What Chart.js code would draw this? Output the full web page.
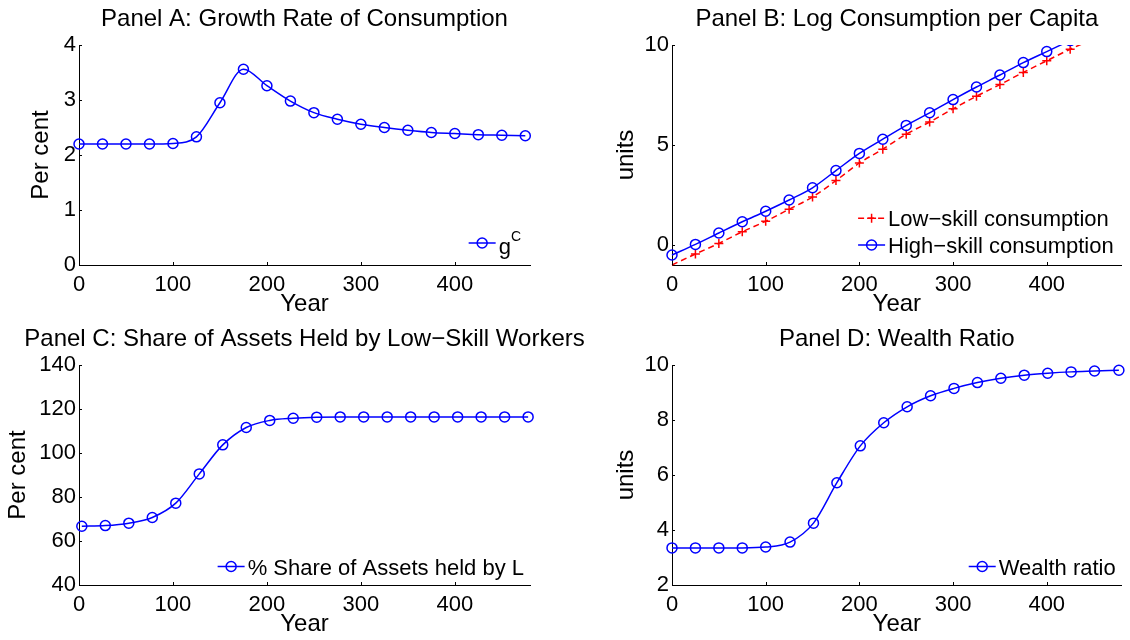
<!DOCTYPE html>
<html><head><meta charset="utf-8">
<script src="https://cdn.jsdelivr.net/npm/chart.js@4.4.1/dist/chart.umd.min.js"></script>
<style>
html,body{margin:0;padding:0;background:#fff;}
#wrap{position:relative;width:1130px;height:640px;overflow:hidden;background:#fff;}
canvas{position:absolute;}
</style></head><body>
<div id="wrap">
<canvas id="cA" width="565" height="320" style="left:0;top:0"></canvas>
<canvas id="cB" width="565" height="320" style="left:565px;top:0"></canvas>
<canvas id="cC" width="620" height="320" style="left:0;top:320px"></canvas>
<canvas id="cD" width="565" height="320" style="left:565px;top:320px"></canvas>
</div>
<script>
// ---------- data ----------
const yearsA = [0,25,50,75,100,125,150,175,200,225,250,275,300,325,350,375,400,425,450,475];
const growthC = [2.2,2.2,2.2,2.2,2.21,2.33,2.95,3.56,3.26,2.98,2.77,2.65,2.56,2.50,2.45,2.41,2.39,2.37,2.36,2.35];

const yearsHigh = [0,25,50,75,100,125,150,175,200,225,250,275,300,325,350,375,400,425];
const highSkill = [-0.5,0.03,0.6,1.16,1.69,2.25,2.86,3.72,4.58,5.29,5.98,6.61,7.27,7.9,8.5,9.12,9.67,10.22];
const yearsLow = [0,25,50,75,100,125,150,175,200,225,250,275,300,325,350,375,400,425,450];
const lowSkill = [-1.0,-0.45,0.08,0.66,1.19,1.79,2.4,3.22,4.1,4.79,5.54,6.15,6.81,7.44,8.02,8.63,9.21,9.79,10.3];

const yearsC = [3,28,53,78,103,128,153,178,203,228,253,278,303,328,353,378,403,428,453,478];
const shareL = [66.7,67.0,68.1,70.7,77.2,90.5,103.7,111.6,114.8,115.8,116.3,116.4,116.4,116.4,116.4,116.4,116.4,116.4,116.4,116.4];

const yearsD = [0,25,50,75,100,126,151,176,201,226,251,276,301,326,351,376,401,426,451,477];
const wealthRatio = [3.35,3.35,3.35,3.35,3.38,3.56,4.25,5.72,7.06,7.9,8.48,8.88,9.15,9.36,9.52,9.63,9.70,9.75,9.78,9.81];

const xTicks = [0,100,200,300,400];
const yTicksA = [0,1,2,3,4];
const yTicksB = [0,5,10];
const yTicksC = [40,60,80,100,120,140];
const yTicksD = [2,4,6,8,10];

const titleA = 'Panel A: Growth Rate of Consumption';
const titleB = 'Panel B: Log Consumption per Capita';
const titleC = 'Panel C: Share of Assets Held by Low\u2212Skill Workers';
const titleD = 'Panel D: Wealth Ratio';
const labelLow = 'Low\u2212skill consumption';
const labelHigh = 'High\u2212skill consumption';
const labelShare = '% Share of Assets held by L';
const labelWealth = 'Wealth ratio';

// ---------- styling helpers ----------
const FAM = '"Liberation Sans", Arial, Helvetica, sans-serif';
const BLUE = '#0000ff', RED = '#ff0000';
Chart.defaults.font.family = FAM;
Chart.defaults.color = '#000';

function pts(xs, ys){ return xs.map((x,i)=>({x:x, y:ys[i]})); }

function blueSeries(xs, ys, extra){
  return Object.assign({
    data: pts(xs, ys), borderColor: BLUE, borderWidth: 1.5,
    pointStyle: 'circle', pointRadius: 5, pointBorderWidth: 1.5,
    pointBorderColor: BLUE, pointBackgroundColor: 'rgba(0,0,0,0)',
    cubicInterpolationMode: 'monotone', fill: false, clip: false,
    _marker: 'circle'
  }, extra || {});
}

const decor = {
  id: 'decor',
  afterDraw(chart, args, o) {
    const ctx = chart.ctx, a = chart.chartArea;
    const xs = chart.scales.x, ys = chart.scales.y;
    ctx.save();
    // inward tick marks
    ctx.strokeStyle = '#000'; ctx.lineWidth = 1; ctx.setLineDash([]);
    ctx.beginPath();
    xs.ticks.forEach(t => { const p = Math.round(xs.getPixelForValue(t.value)) + 0.5; ctx.moveTo(p, a.bottom); ctx.lineTo(p, a.bottom - 3); });
    ys.ticks.forEach(t => { const p = Math.round(ys.getPixelForValue(t.value)) + 0.5; ctx.moveTo(a.left, p); ctx.lineTo(a.left + 3, p); });
    ctx.stroke();
    // title
    ctx.fillStyle = '#000';
    ctx.font = '24px ' + FAM;
    ctx.textAlign = 'center'; ctx.textBaseline = 'alphabetic';
    ctx.fillText(o.title, (a.left + a.right) / 2 + (o.titleDx || 0), o.titleY);
    // legend
    const items = o.legend;
    ctx.textAlign = 'left';
    const widths = items.map(it => {
      ctx.font = '22px ' + FAM;
      let w = ctx.measureText(it.label).width;
      if (it.sup) { ctx.font = '14px ' + FAM; w += ctx.measureText(it.sup).width; }
      return w;
    });
    const maxW = Math.max.apply(null, widths);
    const lineLen = 27, gap = 3;
    const x0 = a.right - o.inset - maxW - lineLen - gap;
    const n = items.length;
    items.forEach((it, i) => {
      const ds = chart.data.datasets[it.ds];
      const y = a.bottom - o.legendBottom - (n - 1 - i) * 26.7;
      ctx.strokeStyle = ds.borderColor; ctx.lineWidth = ds.borderWidth;
      ctx.setLineDash(ds.borderDash || []);
      ctx.beginPath(); ctx.moveTo(x0, y); ctx.lineTo(x0 + lineLen, y); ctx.stroke();
      ctx.setLineDash([]);
      const mx = x0 + lineLen / 2;
      ctx.lineWidth = 1.5;
      ctx.beginPath();
      if (ds._marker === 'circle') { ctx.arc(mx, y, 5, 0, Math.PI * 2); }
      else { ctx.moveTo(mx - 4.5, y); ctx.lineTo(mx + 4.5, y); ctx.moveTo(mx, y - 4.5); ctx.lineTo(mx, y + 4.5); }
      ctx.stroke();
      ctx.fillStyle = '#000';
      if (it.sup) {
        ctx.font = '22px ' + FAM;
        ctx.fillText(it.label, x0 + lineLen + gap, y + 11);
        const gw = ctx.measureText(it.label).width;
        ctx.font = '14px ' + FAM;
        ctx.fillText(it.sup, x0 + lineLen + gap + gw, y - 1.6);
      } else {
        ctx.font = '22px ' + FAM;
        ctx.fillText(it.label, x0 + lineLen + gap, y + 8);
      }
    });
    ctx.restore();
  }
};

function makeChart(id, c) {
  return new Chart(document.getElementById(id), {
    type: 'line',
    data: { datasets: c.datasets },
    options: {
      responsive: false, animation: false, devicePixelRatio: 1,
      layout: { padding: { left: 0, right: c.padRight, top: 45, bottom: 0 } },
      plugins: {
        legend: { display: false }, tooltip: { enabled: false }, title: { display: false },
        decor: { title: c.title, titleY: 26, legend: c.legend, legendBottom: c.legendBottom, inset: c.inset }
      },
      scales: {
        x: {
          type: 'linear', min: 0, max: 480,
          afterBuildTicks: s => { s.ticks = xTicks.map(v => ({ value: v })); },
          afterFit: s => { s.height = 55; },
          grid: { display: false, drawTicks: false },
          border: { display: true, color: '#000', width: 1 },
          ticks: { color: '#000', font: { size: 22 }, padding: 7, maxRotation: 0, autoSkip: false },
          title: { display: true, text: 'Year', color: '#000', font: { size: 24 }, padding: { top: 0, bottom: 1 } }
        },
        y: {
          type: 'linear', min: c.yMin, max: c.yMax,
          afterBuildTicks: s => { s.ticks = c.yTicks.map(v => ({ value: v })); },
          afterFit: s => { s.width = c.yWidth; },
          grid: { display: false, drawTicks: false },
          border: { display: true, color: '#000', width: 1 },
          ticks: { color: '#000', font: { size: 22 }, padding: 3, autoSkip: false },
          title: { display: true, text: c.yLabel, color: '#000', font: { size: 24 }, padding: { top: c.yTitlePad, bottom: 0 } }
        }
      }
    },
    plugins: [decor]
  });
}

makeChart('cA', {
  title: titleA, yLabel: 'Per cent', yMin: 0, yMax: 4, yTicks: yTicksA, yWidth: 79, yTitlePad: 27, padRight: 35,
  datasets: [ blueSeries(yearsA, growthC) ],
  legend: [ { ds: 0, label: 'g', sup: 'C' } ], legendBottom: 22, inset: 9
});

makeChart('cB', {
  title: titleB, yLabel: 'units', yMin: -1.0, yMax: 10, yTicks: yTicksB, yWidth: 107, yTitlePad: 46.5, padRight: 8.3,
  datasets: [
    blueSeries(yearsHigh, highSkill, { clip: { left: false, top: 0, right: false, bottom: false } }),
    {
      data: pts(yearsLow, lowSkill), borderColor: RED, borderWidth: 1.5, borderDash: [6, 4],
      pointStyle: 'cross', pointRadius: ctx => (ctx.dataIndex === 0 ? 0 : 4.5), pointBorderWidth: 1.5,
      pointBorderColor: RED, pointBackgroundColor: RED,
      cubicInterpolationMode: 'monotone', fill: false,
      clip: { left: false, top: 0, right: false, bottom: false }, _marker: 'plus'
    }
  ],
  legend: [ { ds: 1, label: labelLow }, { ds: 0, label: labelHigh } ], legendBottom: 20, inset: 8
});

makeChart('cC', {
  title: titleC, yLabel: 'Per cent', yMin: 40, yMax: 140, yTicks: yTicksC, yWidth: 79, yTitlePad: 3.6, padRight: 90,
  datasets: [ blueSeries(yearsC, shareL) ],
  legend: [ { ds: 0, label: labelShare } ], legendBottom: 18.5, inset: 6
});

makeChart('cD', {
  title: titleD, yLabel: 'units', yMin: 2, yMax: 10, yTicks: yTicksD, yWidth: 107, yTitlePad: 46.5, padRight: 8.3,
  datasets: [ blueSeries(yearsD, wealthRatio) ],
  legend: [ { ds: 0, label: labelWealth } ], legendBottom: 18.5, inset: 6
});
</script>
</body></html>
